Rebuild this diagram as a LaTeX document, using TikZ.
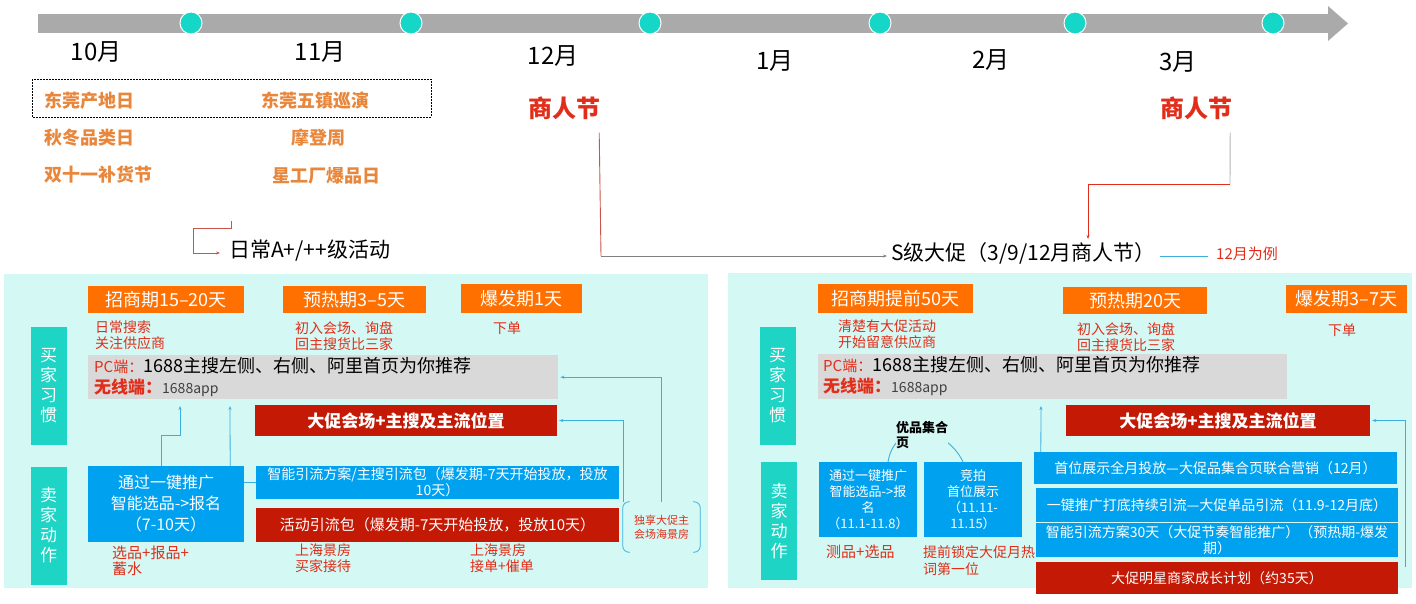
\documentclass[tikz,border=0pt]{standalone}
\usepackage{fontspec}
\setmainfont{Noto Sans CJK SC}
\usetikzlibrary{arrows.meta}

\begin{document}
\begin{tikzpicture}[x=1pt,y=-1pt,
    hdr/.style={fill=myorange, text=white, inner sep=0pt, font=\fontsize{18}{20}\selectfont},
    tag/.style={fill=myteal, text=white, inner sep=0pt, align=center, minimum width=36pt, minimum height=118pt, font=\fontsize{17}{20}\selectfont},
    redbox/.style={fill=mydark, text=white, inner sep=0pt, align=center},
    bluebox/.style={fill=myblue, text=white, inner sep=0pt, align=center},
    graybox/.style={fill=mygray, inner sep=0pt, anchor=north west},
    pctext/.style={inner sep=0pt, anchor=west, align=left, font=\fontsize{18}{21}\selectfont},
    note/.style={text=myred, inner sep=0pt, anchor=north west, align=left, font=\fontsize{14}{16}\selectfont},
    event/.style={text=myorg, inner sep=0pt, font=\bfseries\fontsize{18}{20}\selectfont},
    fest/.style={text=myred, inner sep=0pt, font=\bfseries\fontsize{24}{26}\selectfont},
    month/.style={inner sep=0pt, font=\fontsize{24}{26}\selectfont},
    link/.style={draw=mylink, line width=0.8pt},
    dot/.style={circle, fill=mydot, draw=white, line width=1pt, minimum size=22pt, inner sep=0pt}]
    \definecolor{mybar}{RGB}{170,170,170}
    \definecolor{mydot}{RGB}{20,215,200}
    \definecolor{myorg}{RGB}{232,135,60}
    \definecolor{myred}{RGB}{225,45,25}
    \definecolor{mybg}{RGB}{212,248,243}
    \definecolor{myteal}{RGB}{30,212,196}
    \definecolor{myorange}{RGB}{255,112,0}
    \definecolor{mydark}{RGB}{195,25,5}
    \definecolor{myblue}{RGB}{0,162,240}
    \definecolor{mygray}{RGB}{217,217,217}
    \definecolor{mylink}{RGB}{60,175,225}
    \definecolor{myline}{RGB}{200,85,75}

    \useasboundingbox (0,0) rectangle (1416,603);

    \fill[mybar] (38,14) rectangle (1330,33);
    \fill[mybar] (1328,6) -- (1348,23.5) -- (1328,41) -- cycle;
    \foreach \x in {191,411,650,880,1075,1273}
        \node[dot] (c\x) at (\x,23) {};

    \node[month] (m10) at (96,52) {10月};
    \node[month] (m11) at (320,52) {11月};
    \node[month] (m12) at (553,56) {12月};
    \node[month] (m1) at (775,61) {1月};
    \node[month] (m2) at (991,60) {2月};
    \node[month] (m3) at (1178,62) {3月};

    \draw[dash pattern=on 2pt off 1pt, line width=0.6pt] (32,79) rectangle (431,117);
    \node[event, anchor=west] (e1) at (44,101) {东莞产地日};
    \node[event, anchor=west] (e2) at (44,138) {秋冬品类日};
    \node[event, anchor=west] (e3) at (44,175) {双十一补货节};
    \node[event] (e4) at (315,101) {东莞五镇巡演};
    \node[event] (e5) at (318,138) {摩登周};
    \node[event] (e6) at (326,176) {星工厂爆品日};

    \node[fest] (fest1) at (564,108) {商人节};
    \node[fest] (fest2) at (1196,108) {商人节};

    \node[inner sep=0pt, anchor=west, font=\fontsize{21}{23}\selectfont] (daily) at (229,251) {日常A+/++级活动};
    \node[inner sep=0pt, anchor=west, font=\fontsize{21}{23}\selectfont] (sbig) at (891,253) {S级大促（3/9/12月商人节）};
    \node[inner sep=0pt, anchor=west, text=myred, font=\fontsize{15}{17}\selectfont] (eg) at (1216,254) {12月为例};

    \coordinate (k4) at (231,221);
    \draw[myline, line width=0.8pt, -{Stealth[length=4pt]}, shorten >=9pt] (k4) -- ++(0,7) -| ([xshift=-36pt,yshift=-2pt]daily.west) -- ([yshift=-2pt]daily.west);
    \coordinate (k1) at (601,256);
    \draw[myline, line width=0.9pt] ([xshift=-1pt,yshift=-13pt]fest1.south east) -- (k1);
    \draw[gray, line width=0.9pt, -{Stealth[length=4pt]}, shorten >=4pt] (k1) -- (k1 -| sbig.west);
    \coordinate (k2) at (1230,184);
    \coordinate (k3) at (1088,184);
    \draw[gray!60, line width=0.9pt] ([xshift=-2pt,yshift=-13pt]fest2.south east) -- (k2);
    \draw[myred, line width=0.9pt, -{Stealth[length=4pt]}, shorten >=3pt] (k2) -- (k3) -- (k3 |- sbig.north);
    \draw[mylink, line width=1pt] ([xshift=4pt,yshift=-3pt]sbig.east) -- ([xshift=-8pt,yshift=-2pt]eg.west);

    \fill[mybg] (4,274) rectangle (708,588);
    \fill[mybg] (728,273) rectangle (1412,588);

    % left panel
    \node[tag] (buyL) at (48.5,386) {买\\家\\习\\惯};
    \node[tag] (sellL) at (48.5,525.5) {卖\\家\\动\\作};
    \node[hdr, minimum width=156pt, minimum height=27pt] (h1) at (166,299.5) {招商期15–20天};
    \node[hdr, minimum width=143pt, minimum height=27pt] (h2) at (354.5,299.5) {预热期3–5天};
    \node[hdr, minimum width=121pt, minimum height=29pt] (h3) at (521.5,298.5) {爆发期1天};
    \node[note] (n1) at (95,321) {日常搜索\\关注供应商};
    \node[note] (n2) at (295,321) {初入会场、询盘\\回主搜货比三家};
    \node[note, anchor=center] (n3) at (507,328) {下单};
    \node[graybox, minimum width=470pt, minimum height=44pt] (pcL) at (88,355) {};
    \node[pctext] (pcLt) at (94,377) {\textcolor{myred}{\fontsize{15}{21}\selectfont PC端：}1688主搜左侧、右侧、阿里首页为你推荐\\\textcolor{myred}{\bfseries\fontsize{17}{21}\selectfont 无线端：}\textcolor{darkgray}{\fontsize{14}{21}\selectfont 1688app}};
    \node[redbox, minimum width=302pt, minimum height=31pt, font=\bfseries\fontsize{17}{20}\selectfont] (promoL) at (406,420.5) {大促会场+主搜及主流位置};
    \node[bluebox, minimum width=156pt, minimum height=76pt, font=\fontsize{16}{21}\selectfont] (selL) at (166,504) {通过一键推广\\智能选品->报名\\（7-10天）};
    \node[bluebox, minimum width=363pt, minimum height=33pt, font=\fontsize{14}{16}\selectfont] (flowL) at (437.5,482.5) {智能引流方案/主搜引流包（爆发期-7天开始投放，投放\\10天）};
    \node[redbox, minimum width=363pt, minimum height=34pt, font=\fontsize{15}{18}\selectfont] (actL) at (437.5,525) {活动引流包（爆发期-7天开始投放，投放10天）};
    \node[note, font=\fontsize{15}{16}\selectfont] (n4) at (112,546) {选品+报品+\\蓄水};
    \node[note] (n5) at (295,544) {上海景房\\买家接待};
    \node[note] (n6) at (470,544) {上海景房\\接单+催单};
    \node[minimum width=77pt, minimum height=50pt, inner sep=0pt, text=myred, align=center, font=\fontsize{11}{14}\selectfont] (keyL) at (661.5,527) {独享大促主\\会场海景房};
    \draw[link, rounded corners=6pt] ([xshift=7pt]keyL.north west) -- (keyL.north west) -- (keyL.south west) -- ([xshift=7pt]keyL.south west);
    \draw[link, rounded corners=6pt] ([xshift=-7pt]keyL.north east) -- (keyL.north east) -- (keyL.south east) -- ([xshift=-7pt]keyL.south east);
    \draw[link, -{Stealth[length=4pt]}] (keyL.north) |- ([xshift=2pt]pcL.east);
    \draw[link, -{Stealth[length=4pt]}] ([xshift=1pt]keyL.north west) |- ([xshift=2pt]promoL.east);
    \coordinate (aL1) at (180,406);
    \coordinate (aL2) at (230,406);
    \draw[link, -{Stealth[length=4pt]}] ([xshift=-5pt]selL.north) -- ++(0,-30) -| (aL1);
    \draw[link, -{Stealth[length=4pt]}] ([xshift=-14pt]selL.north east) -- (aL2);
    \draw[link] (selL.east |- flowL.west) -- (flowL.west);

    % right panel
    \node[tag] (buyR) at (777.5,386) {买\\家\\习\\惯};
    \node[tag] (sellR) at (779,521) {卖\\家\\动\\作};
    \node[hdr, minimum width=155pt, minimum height=29pt] (h4) at (895.5,298.5) {招商期提前50天};
    \node[hdr, minimum width=144pt, minimum height=27pt] (h5) at (1135,300.5) {预热期20天};
    \node[hdr, minimum width=121pt, minimum height=28pt] (h6) at (1346.5,299) {爆发期3–7天};
    \node[note] (n7) at (838,320) {清楚有大促活动\\开始留意供应商};
    \node[note] (n8) at (1077,322) {初入会场、询盘\\回主搜货比三家};
    \node[note, anchor=center] (n9) at (1342,330) {下单};
    \node[graybox, minimum width=469pt, minimum height=45pt] (pcR) at (818,354) {};
    \node[pctext] (pcRt) at (823,376) {\textcolor{myred}{\fontsize{15}{21}\selectfont PC端：}1688主搜左侧、右侧、阿里首页为你推荐\\\textcolor{myred}{\bfseries\fontsize{17}{21}\selectfont 无线端：}\textcolor{darkgray}{\fontsize{14}{21}\selectfont 1688app}};
    \node[redbox, minimum width=304pt, minimum height=31pt, font=\bfseries\fontsize{17}{20}\selectfont] (promoR) at (1218,420.5) {大促会场+主搜及主流位置};
    \node[bluebox, minimum width=98pt, minimum height=75pt, font=\fontsize{13}{16}\selectfont] (selR) at (868,499.5) {通过一键推广\\智能选品->报\\名\\（11.1-11.8）};
    \node[bluebox, minimum width=98pt, minimum height=75pt, font=\fontsize{13}{16}\selectfont] (bidR) at (973,499.5) {竞拍\\首位展示\\（11.11-\\11.15）};
    \draw[link, line width=0.9pt] ([xshift=20pt]selR.north) .. controls (895,420) and (945,425) .. ([xshift=-10pt]bidR.north);
    \node[fill=mybg, inner sep=0pt, anchor=north west, align=left, font=\bfseries\fontsize{13}{15}\selectfont] (setR) at (896,421) {优品集合\\页};
    \node[note, font=\fontsize{15}{17}\selectfont] (n10) at (826,545) {测品+选品};
    \node[note, font=\fontsize{14}{17}\selectfont] (n11) at (923,545) {提前锁定大促月热\\词第一位};
    \node[bluebox, minimum width=363pt, minimum height=32pt, font=\fontsize{14}{16}\selectfont] (s1) at (1215.5,468) {首位展示全月投放—大促品集合页联合营销（12月）};
    \node[bluebox, minimum width=362pt, minimum height=34pt, font=\fontsize{14}{16}\selectfont] (s2) at (1217,505) {一键推广打底持续引流—大促单品引流（11.9-12月底）};
    \node[bluebox, minimum width=362pt, minimum height=34pt, font=\fontsize{14}{16}\selectfont] (s3) at (1217,540) {智能引流方案30天（大促节奏智能推广）（预热期-爆发\\期）};
    \node[redbox, minimum width=362pt, minimum height=32pt, font=\fontsize{14}{16}\selectfont] (s4) at (1217,578) {大促明星商家成长计划（约35天）};
    \coordinate (aR1) at (1041,406);
    \draw[link, -{Stealth[length=4pt]}] ([xshift=7pt]s1.north west) -- (aR1);
    \coordinate (bR1) at (1405,567);
    \draw[link, -{Stealth[length=4pt]}] (bR1) |- ([xshift=2pt]promoR.east);
\end{tikzpicture}
\end{document}
